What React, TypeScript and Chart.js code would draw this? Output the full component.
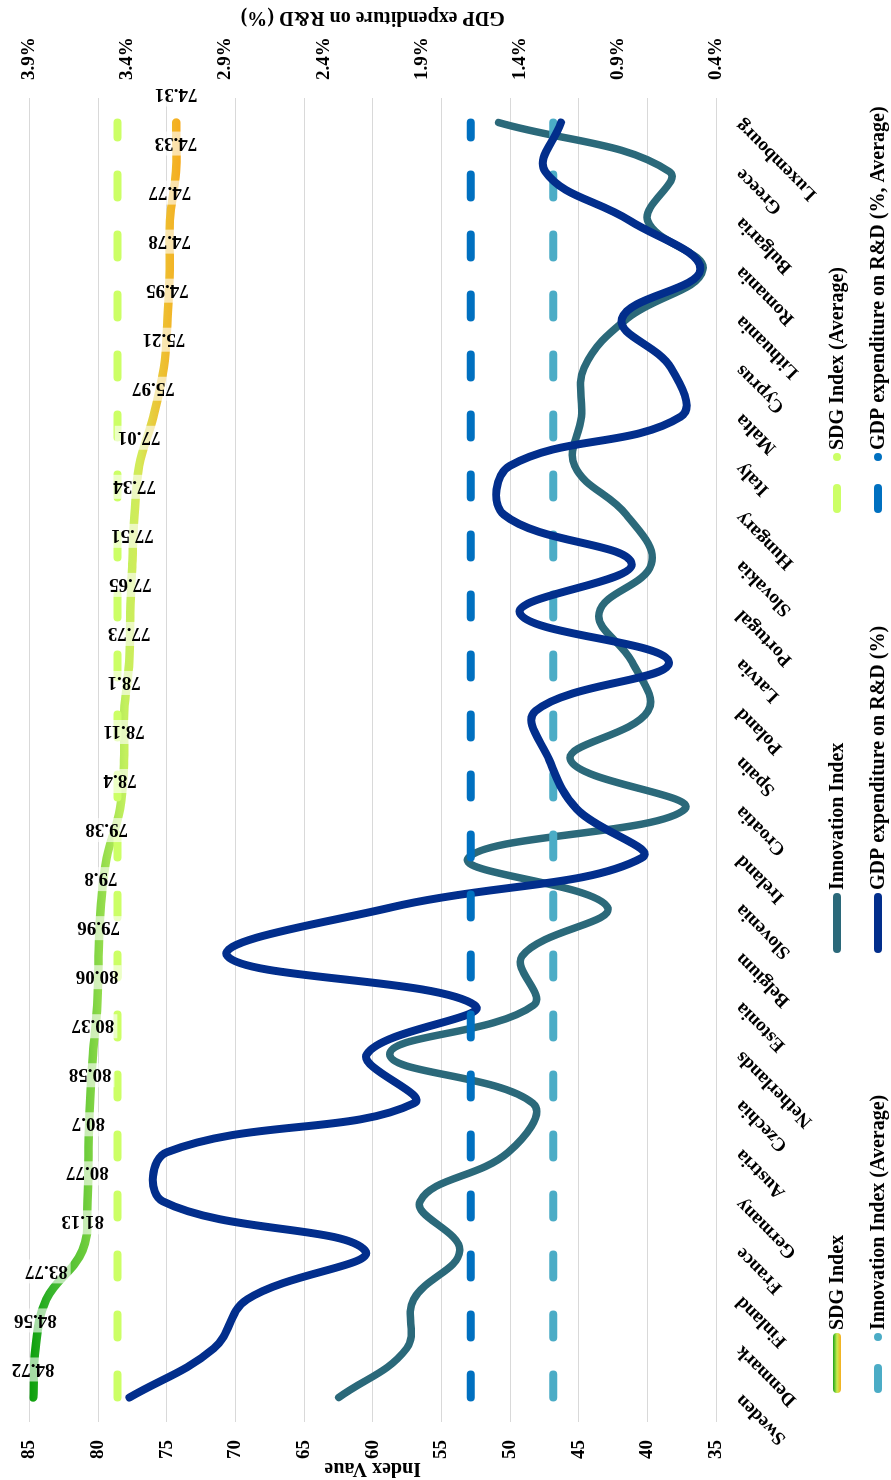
import React, { useEffect, useRef } from 'react';
import { Chart, registerables } from 'chart.js';

Chart.register(...registerables);

// ---------- data ----------
const countries = [
  'Sweden', 'Denmark', 'Finland', 'France', 'Germany', 'Austria', 'Czechia',
  'Netherlands', 'Estonia', 'Belgium', 'Slovenia', 'Ireland', 'Croatia', 'Spain',
  'Poland', 'Latvia', 'Portugal', 'Slovakia', 'Hungary', 'Italy', 'Malta', 'Cyprus',
  'Lithuania', 'Romania', 'Bulgaria', 'Greece', 'Luxembourg',
];

const sdgIndex = [
  84.72, 84.56, 83.77, 81.13, 80.77, 80.7, 80.58, 80.37, 80.06, 79.96, 79.8, 79.38,
  78.4, 78.11, 78.1, 77.73, 77.65, 77.51, 77.34, 77.01, 75.97, 75.21, 74.95, 74.78,
  74.77, 74.33, 74.31,
];

const innovationIndex = [
  62.47, 57.53, 57.02, 53.66, 56.55, 50.13, 48.34, 58.76, 48.28, 49.13, 42.91, 53.05,
  37.27, 45.6, 39.95, 41.11, 43.51, 39.7, 41.53, 45.3, 44.8, 44.6, 41.48, 35.95,
  39.98, 38.4, 50.84,
];

const gdpRnd = [
  3.39, 2.96, 2.79, 2.19, 3.22, 3.2, 1.94, 2.18, 1.63, 2.89, 2.05, 0.78, 1.11, 1.25,
  1.32, 0.64, 1.4, 0.83, 1.48, 1.45, 0.58, 0.63, 0.88, 0.48, 0.84, 1.27, 1.19,
];

const sdgAverage = 78.59;
const innovationAverage = 46.85;
const gdpAverage = 1.65;

const indexTicks = [35, 40, 45, 50, 55, 60, 65, 70, 75, 80, 85];
const gdpTicks = [0.4, 0.9, 1.4, 1.9, 2.4, 2.9, 3.4, 3.9];

const seriesNames = [
  'SDG Index',
  'Innovation Index',
  'SDG Index (Average)',
  'Innovation Index (Average)',
  'GDP expenditure on R&D (%)',
  'GDP expenditure on R&D (%, Average)',
];

const leftTitle = 'Index Vaue';
const rightTitle = 'GDP expenditure on R&D (%)';

// ---------- styles ----------
const FONT = "'Liberation Serif', 'Times New Roman', serif";
const W = 1480;
const H = 891;
const COLORS = {
  teal: '#2B697A',
  navy: '#022E8C',
  lime: '#CCFF66',
  lightBlue: '#4BACC6',
  midBlue: '#0070C0',
};
const sdgStops: [number, string][] = [
  [85, '#0A9E0A'],
  [83.5, '#36B42C'],
  [81, '#6ACB3A'],
  [79.5, '#98DE4E'],
  [78, '#C3F05E'],
  [77, '#D4EA58'],
  [76, '#E8CC3E'],
  [74, '#F6AC1E'],
];

function sdgGradient(chart: any) {
  const { ctx, chartArea, scales } = chart;
  if (!chartArea || !scales.y) return '#7ED848';
  const y = scales.y;
  const y0 = y.getPixelForValue(85);
  const y1 = y.getPixelForValue(74);
  const g = ctx.createLinearGradient(0, y0, 0, y1);
  sdgStops.forEach(([v, c]) => g.addColorStop(Math.min(1, Math.max(0, (85 - v) / 11)), c));
  return g;
}

const overlayPlugin = {
  id: 'overlay',
  afterDatasetsDraw(chart: any) {
    const { ctx } = chart;
    const meta = chart.getDatasetMeta(0);
    ctx.save();
    ctx.font = `bold 19px ${FONT}`;
    meta.data.forEach((pt: any, i: number) => {
      const label = String(sdgIndex[i]);
      const w = ctx.measureText(label).width;
      ctx.save();
      ctx.translate(pt.x + 28, pt.y);
      ctx.rotate(-Math.PI / 2);
      ctx.fillStyle = 'rgba(255,255,255,0.62)';
      ctx.fillRect(-w / 2 - 3, -12, w + 6, 24);
      ctx.fillStyle = '#000';
      ctx.textAlign = 'center';
      ctx.textBaseline = 'middle';
      ctx.fillText(label, 0, 1);
      ctx.restore();
    });
    ctx.restore();
  },
  afterDraw(chart: any) {
    const { ctx, chartArea } = chart;
    const midY = (chartArea.top + chartArea.bottom) / 2;
    ctx.save();
    ctx.fillStyle = '#000';
    ctx.font = `bold 20px ${FONT}`;
    ctx.textAlign = 'center';
    ctx.textBaseline = 'middle';
    // left title
    ctx.save();
    ctx.translate(12, midY);
    ctx.rotate(-Math.PI / 2);
    ctx.fillText(leftTitle, 0, 0);
    ctx.restore();
    // right title
    ctx.save();
    ctx.translate(W - 17, midY);
    ctx.rotate(-Math.PI / 2);
    ctx.fillText(rightTitle, 0, 0);
    ctx.restore();

    // legend
    const cols = [87, 527, 967];
    const rows = [837, 878];
    const items = [
      { kind: 'grad', color: '', col: 0, row: 0 },
      { kind: 'solid', color: COLORS.teal, col: 1, row: 0 },
      { kind: 'dash', color: COLORS.lime, col: 2, row: 0 },
      { kind: 'dash', color: COLORS.lightBlue, col: 0, row: 1 },
      { kind: 'solid', color: COLORS.navy, col: 1, row: 1 },
      { kind: 'dash', color: COLORS.midBlue, col: 2, row: 1 },
    ];
    ctx.lineCap = 'round';
    ctx.lineWidth = 8;
    items.forEach((it, i) => {
      const x0 = cols[it.col];
      const y = rows[it.row];
      if (it.kind === 'grad') {
        const g = ctx.createLinearGradient(0, y - 4, 0, y + 4);
        g.addColorStop(0, '#1AA31A');
        g.addColorStop(0.5, '#C8EE50');
        g.addColorStop(1, '#F6AC1E');
        ctx.strokeStyle = g;
        ctx.beginPath();
        ctx.moveTo(x0 + 4, y);
        ctx.lineTo(x0 + 56, y);
        ctx.stroke();
      } else if (it.kind === 'solid') {
        ctx.strokeStyle = it.color;
        ctx.beginPath();
        ctx.moveTo(x0 + 4, y);
        ctx.lineTo(x0 + 56, y);
        ctx.stroke();
      } else {
        ctx.strokeStyle = it.color;
        ctx.fillStyle = it.color;
        ctx.beginPath();
        ctx.moveTo(x0 + 4, y);
        ctx.lineTo(x0 + 25, y);
        ctx.stroke();
        ctx.beginPath();
        ctx.arc(x0 + 56, y, 4, 0, Math.PI * 2);
        ctx.fill();
      }
      ctx.fillStyle = '#000';
      ctx.textAlign = 'left';
      ctx.textBaseline = 'middle';
      ctx.font = `bold 20px ${FONT}`;
      ctx.fillText(seriesNames[i], x0 + 63, y + 1);
    });
    ctx.restore();
  },
};

const tickFont = { family: FONT, size: 19, weight: 'bold' as const };

export default function App() {
  const canvasRef = useRef<HTMLCanvasElement | null>(null);

  useEffect(() => {
    const canvas = canvasRef.current;
    if (!canvas) return;
    const lineBase = {
      pointRadius: 0,
      pointHoverRadius: 0,
      fill: false,
      borderCapStyle: 'round' as const,
      borderJoinStyle: 'round' as const,
    };
    const chart = new Chart(canvas, {
      type: 'line',
      data: {
        labels: countries,
        datasets: [
          {
            ...lineBase,
            label: seriesNames[0],
            data: sdgIndex,
            yAxisID: 'y',
            borderColor: (c: any) => sdgGradient(c.chart),
            borderWidth: 8.5,
            tension: 0.4,
            order: 6,
          },
          {
            ...lineBase,
            label: seriesNames[1],
            data: innovationIndex,
            yAxisID: 'y',
            borderColor: COLORS.teal,
            borderWidth: 7.5,
            tension: 0.4,
            order: 5,
          },
          {
            ...lineBase,
            label: seriesNames[2],
            data: countries.map(() => sdgAverage),
            yAxisID: 'y',
            borderColor: COLORS.lime,
            borderWidth: 8,
            borderDash: [23, 37],
            order: 4,
          },
          {
            ...lineBase,
            label: seriesNames[3],
            data: countries.map(() => innovationAverage),
            yAxisID: 'y',
            borderColor: COLORS.lightBlue,
            borderWidth: 8,
            borderDash: [23, 37],
            order: 3,
          },
          {
            ...lineBase,
            label: seriesNames[4],
            data: gdpRnd,
            yAxisID: 'y1',
            borderColor: COLORS.navy,
            borderWidth: 8,
            tension: 0.4,
            order: 2,
          },
          {
            ...lineBase,
            label: seriesNames[5],
            data: countries.map(() => gdpAverage),
            yAxisID: 'y1',
            borderColor: COLORS.midBlue,
            borderWidth: 8,
            borderDash: [23, 37],
            order: 1,
          },
        ],
      },
      options: {
        responsive: false,
        animation: false,
        events: [],
        layout: { padding: { top: 27, left: 0, right: 0, bottom: 0 } },
        plugins: {
          legend: { display: false },
          tooltip: { enabled: false },
        },
        scales: {
          x: {
            type: 'category',
            offset: true,
            grid: { display: false, drawTicks: false },
            border: { display: false },
            ticks: {
              autoSkip: false,
              maxRotation: 45,
              minRotation: 45,
              padding: 15,
              color: '#000',
              font: tickFont,
            },
            afterFit: (s: any) => {
              s.height = 175;
            },
          },
          y: {
            type: 'linear',
            position: 'left',
            min: 35,
            max: 85,
            afterBuildTicks: (s: any) => {
              s.ticks = indexTicks.map((v) => ({ value: v }));
            },
            grid: { color: '#D9D9D9', lineWidth: 1, drawTicks: false },
            border: { display: false },
            ticks: { padding: 18, color: '#000', font: tickFont },
            afterFit: (s: any) => {
              s.width = 58;
            },
          },
          y1: {
            type: 'linear',
            position: 'right',
            min: 0.4,
            max: 3.9,
            afterBuildTicks: (s: any) => {
              s.ticks = gdpTicks.map((v) => ({ value: v }));
            },
            grid: { display: false, drawTicks: false },
            border: { display: false },
            ticks: {
              padding: 18,
              color: '#000',
              font: tickFont,
              callback: (v: any) => `${Number(v).toFixed(1)}%`,
            },
            afterFit: (s: any) => {
              s.width = 98;
            },
          },
        },
      },
      plugins: [overlayPlugin],
    } as any);
    return () => chart.destroy();
  }, []);

  return (
    <div
      style={{
        position: 'fixed',
        left: 0,
        top: 0,
        width: H,
        height: W,
        overflow: 'hidden',
        background: '#fff',
      }}
    >
      <div
        style={{
          position: 'absolute',
          left: 0,
          top: 0,
          width: W,
          height: H,
          transformOrigin: '0 0',
          transform: `translateY(${W}px) rotate(-90deg)`,
        }}
      >
        <canvas
          ref={canvasRef}
          width={W}
          height={H}
          style={{ display: 'block', width: W, height: H }}
        />
      </div>
    </div>
  );
}
